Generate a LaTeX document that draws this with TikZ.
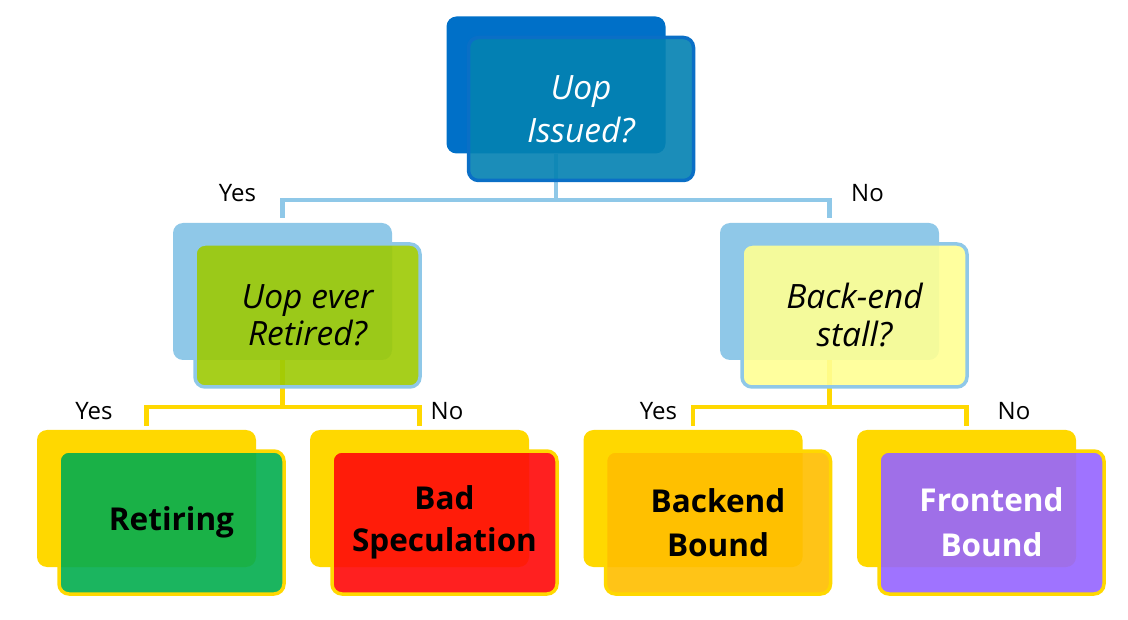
\documentclass[tikz,border=0pt]{standalone}
\usepackage{fontspec}
\setmainfont{Open Sans}
\definecolor{topback}{RGB}{0,112,200}
\definecolor{topfront}{RGB}{4,130,178}
\definecolor{topedge}{RGB}{10,111,198}
\definecolor{lblue}{RGB}{143,200,232}
\definecolor{gfill}{RGB}{157,202,5}
\definecolor{yfill}{RGB}{255,255,148}
\definecolor{gold}{RGB}{255,216,0}
\definecolor{retfill}{RGB}{4,174,79}
\definecolor{badfill}{RGB}{255,10,10}
\definecolor{bckfill}{RGB}{255,190,0}
\definecolor{frtfill}{RGB}{150,101,255}
\begin{document}
\begin{tikzpicture}[x=1pt,y=-1pt,
  backbox/.style={rectangle, rounded corners=10pt, minimum width=219pt, minimum height=137pt, inner sep=0pt, draw=none},
  frontbox/.style={rectangle, rounded corners=10pt, minimum width=225pt, minimum height=143pt, inner sep=0pt, line width=3.5pt, align=center, fill opacity=0.91, text opacity=1},
  qfont/.style={font=\fontsize{33.5}{#1}\selectfont\itshape},
  rfont/.style={font=\fontsize{31.5}{#1}\selectfont\bfseries},
  conn/.style={line width=4.5pt},
  lbl/.style={anchor=base, inner sep=0pt, font=\fontsize{24}{28}\selectfont}
]
\useasboundingbox (0,0) rectangle (1128,620);
% back boxes
\node[backbox, fill=topback] (topb) at (556,85) {};
\node[backbox, fill=lblue] (lb) at (282.5,291.5) {};
\node[backbox, fill=lblue] (rb) at (829.5,291.5) {};
\node[backbox, fill=gold] (retb) at (146.5,498.5) {};
\node[backbox, fill=gold] (badb) at (419.5,498.5) {};
\node[backbox, fill=gold] (bckb) at (693,498.5) {};
\node[backbox, fill=gold] (frtb) at (966.5,498.5) {};
% connectors
\coordinate (h1) at (0,200);
\coordinate (h2) at (0,407);
\draw[conn, lblue] (topb.south) -- (topb.south |- h1) -| ([yshift=5pt]lb.north);
\draw[conn, lblue] (topb.south |- h1) -| ([yshift=5pt]rb.north);
\draw[conn, gold] (lb.south) -- (lb.south |- h2) -| ([yshift=4pt]retb.north);
\draw[conn, gold] (lb.south |- h2) -| ([yshift=4pt]badb.north);
\draw[conn, gold] (rb.south) -- (rb.south |- h2) -| ([yshift=4pt]bckb.north);
\draw[conn, gold] (rb.south |- h2) -| ([yshift=4pt]frtb.north);
% front boxes
\node[frontbox, fill=topfront, draw=topedge, text=white, qfont=43] (topf) at (581,109) {Uop\\Issued?};
\node[frontbox, fill=gfill, draw=lblue, text=black, qfont=37] (lf) at (307.5,315.5) {Uop ever\\Retired?};
\node[frontbox, fill=yfill, draw=lblue, text=black, qfont=38] (rf) at (854.5,315.5) {Back-end\\stall?};
\node[frontbox, fill=retfill, draw=gold, text=black, rfont=43] (retf) at (171.5,522.5) {Retiring};
\node[frontbox, fill=badfill, draw=gold, text=black, rfont=42] (badf) at (444.5,522.5) {\raisebox{-3pt}{Bad}\\\raisebox{-3pt}{Speculation}};
\node[frontbox, fill=bckfill, draw=gold, text=black, rfont=44] (bckf) at (718,522.5) {Backend\\Bound};
\node[frontbox, fill=frtfill, draw=gold, text=white, rfont=45] (frtf) at (991.5,522.5) {Frontend\\Bound};
% labels
\node[lbl] (y1) at (237.5,202) {Yes};
\node[lbl] (n1) at (867.5,202) {No};
\node[lbl] (y2) at (94,420) {Yes};
\node[lbl] (n2) at (447,420) {No};
\node[lbl] (y3) at (658.5,420) {Yes};
\node[lbl] (n3) at (1014,420) {No};
\end{tikzpicture}
\end{document}
